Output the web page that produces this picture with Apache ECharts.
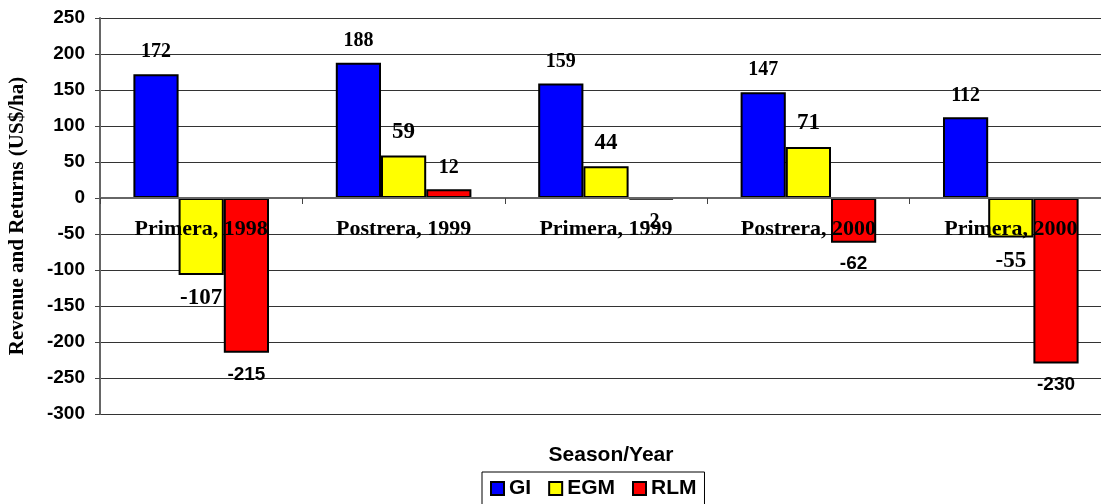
<!DOCTYPE html>
<html>
<head>
<meta charset="utf-8">
<script src="https://cdn.jsdelivr.net/npm/echarts@6/dist/echarts.min.js"></script>
<style>
  html, body { margin: 0; padding: 0; background: #fff; }
  #chart { width: 1101px; height: 504px; }
</style>
</head>
<body>
<div id="chart"></div>
<script>
// values
let categories = ['Primera, 1998', 'Postrera, 1999', 'Primera, 1999', 'Postrera, 2000', 'Primera, 2000']
let giValues = [172, 188, 159, 147, 112]
let egmValues = [-107, 59, 44, 71, -55]
let rlmValues = [-215, 12, -2, -62, -230]
let yTicks = { min: -300, max: 250, step: 50 }

const serif = '"Liberation Serif", "Times New Roman", serif'
const sans = '"Liberation Sans", Arial, sans-serif'

const gridTop = 18
const gridHeight = 396

function labelFor(v, font, size) {
    return {
        show: true,
        position: v < 0 ? 'bottom' : 'top',
        distance: 12,
        fontFamily: font,
        fontWeight: 'bold',
        fontSize: size,
        color: '#000'
    }
}

function makeSeries(name, values, color, labelRule) {
    let data = []
    for (let i in values) {
        let v = values[i]
        let rule = labelRule(v)
        data.push({ value: v, label: labelFor(v, rule[0], rule[1]) })
    }
    return {
        name: name,
        type: 'bar',
        barGap: '0%',
        barCategoryGap: '33%',
        itemStyle: { color: color, borderColor: '#000', borderWidth: 2 },
        data: data
    }
}

let seriesData = [
    makeSeries('GI', giValues, '#0000ff', v => [serif, 20]),
    makeSeries('EGM', egmValues, '#ffff00', v => [serif, 23]),
    makeSeries('RLM', rlmValues, '#ff0000', v => (v < -10 ? [sans, 19] : [serif, 20]))
]

// the category axis sits on the zero line: lift it from the bottom edge
let zeroOffset = -gridHeight * (0 - yTicks.min) / (yTicks.max - yTicks.min)

var chart = echarts.init(document.getElementById('chart'))
chart.setOption({
    animation: false,
    title: {
        text: 'Season/Year',
        left: 606,
        top: 440,
        textAlign: 'center',
        textStyle: { fontFamily: sans, fontWeight: 'bold', fontSize: 21, color: '#000' }
    },
    legend: {
        data: ['GI', 'EGM', 'RLM'],
        left: 482,
        top: 472,
        itemWidth: 13,
        itemHeight: 13,
        itemGap: 17,
        icon: 'rect',
        borderColor: '#000',
        borderWidth: 1,
        borderRadius: 0,
        padding: [6, 8, 10, 8],
        textStyle: { fontFamily: sans, fontWeight: 'bold', fontSize: 21, color: '#000' }
    },
    grid: {
        left: 100,
        top: gridTop,
        width: 1012,
        height: gridHeight,
        outerBoundsMode: 'none'
    },
    xAxis: {
        type: 'category',
        data: categories,
        z: 5,
        offset: zeroOffset,
        axisLine: { onZero: false, lineStyle: { color: '#666', width: 2 } },
        axisTick: { show: true, length: 6, lineStyle: { color: '#444', width: 1 } },
        axisLabel: {
            margin: 20,
            fontFamily: serif,
            fontWeight: 'bold',
            fontSize: 22,
            color: '#000'
        }
    },
    yAxis: {
        type: 'value',
        min: yTicks.min,
        max: yTicks.max,
        interval: yTicks.step,
        name: 'Revenue and Returns (US$/ha)',
        nameLocation: 'middle',
        nameGap: 72,
        nameTextStyle: { fontFamily: serif, fontWeight: 'bold', fontSize: 21, color: '#000' },
        axisLine: { show: true, lineStyle: { color: '#666', width: 2 } },
        axisTick: { show: true, length: 5, lineStyle: { color: '#444' } },
        axisLabel: {
            margin: 15,
            fontFamily: sans,
            fontWeight: 'bold',
            fontSize: 19,
            color: '#000'
        },
        splitLine: { show: true, lineStyle: { color: '#333', width: 1 } }
    },
    series: seriesData
})
</script>
</body>
</html>
